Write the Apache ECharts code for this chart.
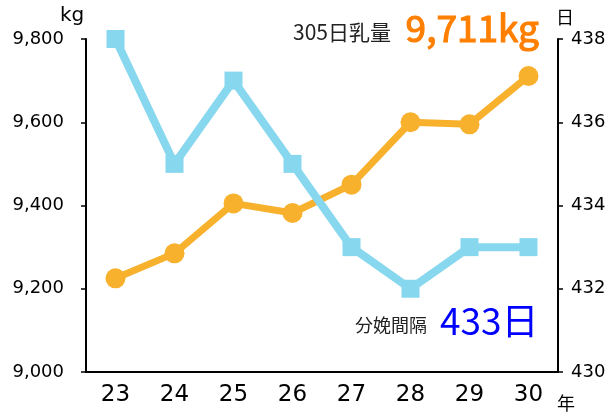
<!DOCTYPE html>
<html>
<head>
<meta charset="utf-8">
<script src="https://cdn.jsdelivr.net/npm/echarts@6/dist/echarts.min.js"></script>
<style>
  html, body { margin: 0; padding: 0; background: #fff; }
  #chart { width: 611px; height: 412px; }
</style>
</head>
<body>
<div id="chart"></div>
<script>
// 年度
const years = ['23', '24', '25', '26', '27', '28', '29', '30'];
// 305日乳量 (kg)
const milk = [9225, 9285, 9405, 9382, 9450, 9600, 9595, 9711];
// 分娩間隔 (日)
const interval = [438, 435, 437, 435, 433, 432, 433, 433];

const FONT = '"DejaVu Sans", "Noto Sans CJK JP", sans-serif';
const CJK = '"Noto Sans CJK JP", "DejaVu Sans", sans-serif';

const chart = echarts.init(document.getElementById('chart'));

chart.setOption({
    backgroundColor: '#fff',
    animation: false,
    grid: { left: 86, right: 53, top: 39, bottom: 40 },
    xAxis: {
        type: 'category',
        data: years,
        boundaryGap: true,
        axisLine: { lineStyle: { color: '#000', width: 2 } },
        axisTick: { inside: true, length: 6, lineStyle: { color: '#000', width: 1.5 } },
        axisLabel: { color: '#000', fontSize: 23, fontFamily: FONT, margin: 12 }
    },
    yAxis: [
        {
            type: 'value',
            min: 9000, max: 9800, interval: 200,
            splitLine: { show: false },
            axisLine: { show: true, lineStyle: { color: '#000', width: 2 } },
            axisTick: { show: true, length: 5, lineStyle: { color: '#000', width: 1.5 } },
            axisLabel: {
                color: '#000', fontSize: 18, fontFamily: FONT, margin: 22,
                formatter: v => v.toLocaleString('en-US')
            }
        },
        {
            type: 'value',
            min: 430, max: 438, interval: 2,
            splitLine: { show: false },
            axisLine: { show: true, lineStyle: { color: '#000', width: 2 } },
            axisTick: { show: true, length: 5, lineStyle: { color: '#000', width: 1.5 } },
            axisLabel: { color: '#000', fontSize: 18, fontFamily: FONT, margin: 13 }
        }
    ],
    series: [
        {
            name: '305日乳量',
            type: 'line',
            yAxisIndex: 0,
            data: milk,
            symbol: 'circle',
            symbolSize: 20,
            lineStyle: { color: '#F7B12D', width: 7 },
            itemStyle: { color: '#F7B12D' },
            z: 2
        },
        {
            name: '分娩間隔',
            type: 'line',
            yAxisIndex: 1,
            data: interval,
            symbol: 'rect',
            symbolSize: 18,
            lineStyle: { color: '#87D7EE', width: 8 },
            itemStyle: { color: '#87D7EE' },
            z: 3
        }
    ],
    graphic: [
        { type: 'text', left: 60, top: 6, style: { text: 'kg', fontSize: 20, fontFamily: FONT, fill: '#000' } },
        { type: 'text', left: 556, top: 8, style: { text: '日', fontSize: 18, fontFamily: CJK, fill: '#000' } },
        { type: 'text', left: 557, top: 394, style: { text: '年', fontSize: 18, fontFamily: CJK, fill: '#000' } },
        { type: 'text', left: 293, top: 22, style: { text: '305日乳量', fontSize: 21, fontFamily: CJK, fill: '#222' } },
        { type: 'text', left: 405, top: 9, style: { text: '9,711kg', fontSize: 37, fontFamily: CJK, fill: '#FF7F00', stroke: '#FF7F00', lineWidth: 1.2 } },
        { type: 'text', left: 355, top: 316, style: { text: '分娩間隔', fontSize: 18, fontFamily: CJK, fill: '#222' } },
        { type: 'text', left: 440, top: 302, style: { text: '433日', fontSize: 37, fontFamily: CJK, fill: '#0000FF' } }
    ]
});
</script>
</body>
</html>
